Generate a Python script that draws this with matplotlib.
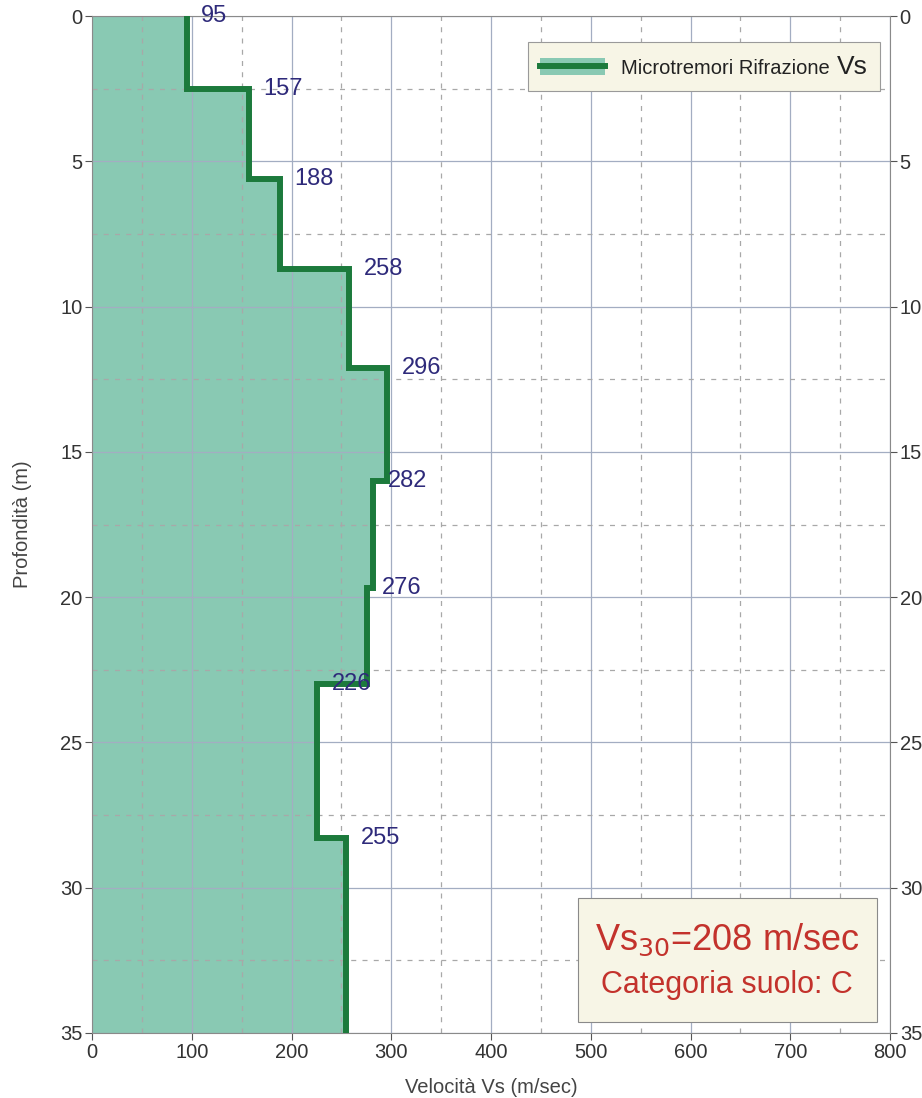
import numpy as np
import matplotlib
matplotlib.use("Agg")
import matplotlib.pyplot as plt
from matplotlib.patches import Patch, Rectangle
from matplotlib.lines import Line2D
from matplotlib.legend_handler import HandlerTuple
from matplotlib.offsetbox import TextArea, HPacker
from matplotlib.ticker import MultipleLocator

plt.rcParams['font.family'] = ['Liberation Sans', 'DejaVu Sans']

# ---- data ----
velocities = [95, 157, 188, 258, 296, 282, 276, 226, 255]      # Vs (m/sec)
layer_tops = [0, 2.5, 5.6, 8.7, 12.1, 16.0, 19.7, 23.0, 28.3]  # depth (m)
max_depth = 35
x_ticks = [0, 100, 200, 300, 400, 500, 600, 700, 800]
y_ticks = [0, 5, 10, 15, 20, 25, 30, 35]
legend_label = "Microtremori Rifrazione"
legend_suffix = "Vs"
vs30_value = 208
soil_category = "C"

# ---- styles ----
FILL = '#89c9b3'
LINE = '#1c7a3c'
LABEL = '#2e2a7a'
RED = '#c3322c'
BOXFACE = '#f7f5e6'

fig = plt.figure(figsize=(9.22, 10.98), dpi=100)
ax = fig.add_axes([0.0998, 0.0592, 0.8655, 0.9262])

bounds = np.array(layer_tops + [max_depth], dtype=float)
vel = np.array(velocities, dtype=float)
ys = np.repeat(bounds, 2)[1:-1]
xs = np.repeat(vel, 2)

ax.fill_betweenx(bounds, 0, np.append(vel, vel[-1]), step='post',
                 color=FILL, linewidth=0, zorder=1)
ax.plot(xs, ys, color=LINE, linewidth=4.3, solid_capstyle='butt',
        solid_joinstyle='miter', zorder=3)

for v, t in zip(velocities, layer_tops):
    ax.annotate(str(v), xy=(v, t), xytext=(10.5, 0), textcoords='offset points',
                ha='left', va='center', fontsize=17, color=LABEL, zorder=4,
                annotation_clip=False)

ax.set_xlim(0, 800)
ax.set_ylim(max_depth, 0)
ax.set_xticks(x_ticks)
ax.set_yticks(y_ticks)
ax.xaxis.set_minor_locator(MultipleLocator(50))
ax.yaxis.set_minor_locator(MultipleLocator(2.5))

ax.grid(which='major', color='#a3adc2', linewidth=0.9, linestyle='-')
ax.grid(which='minor', color='#a8a8a8', linewidth=0.9, linestyle=(0, (4, 5)))

ax.tick_params(which='major', direction='out', length=5, width=0.8,
               colors='#555555', labelcolor='#333333', labelsize=14.5,
               left=True, right=True, labelleft=True, labelright=True,
               bottom=True, top=False, pad=2)
ax.tick_params(which='minor', length=0)
for s in ax.spines.values():
    s.set_color('#8a8a8a')
    s.set_linewidth(0.8)

ax.set_xlabel("Velocità Vs (m/sec)", fontsize=14.5, color='#444444', labelpad=12)
ax.set_ylabel("Profondità (m)", fontsize=14.5, color='#444444', labelpad=20)

# legend
h_patch = Patch(facecolor=FILL, edgecolor='none')
h_line = Line2D([], [], color=LINE, linewidth=4.3)
leg = ax.legend([(h_patch, h_line)], [legend_label],
                handler_map={tuple: HandlerTuple(ndivide=1, pad=0)},
                loc='upper right', bbox_to_anchor=(0.987, 0.974),
                borderaxespad=0, fontsize=14.5, frameon=True, fancybox=False,
                framealpha=1, facecolor=BOXFACE, edgecolor='#9a9a9a',
                handlelength=3.2, handleheight=0.9, borderpad=0.6,
                handletextpad=0.8)
leg.get_frame().set_linewidth(0.8)
for t in leg.get_texts():
    t.set_color('#222222')

# append a larger "Vs" after the legend label, inside the legend box
try:
    row = leg._legend_handle_box.get_children()[0].get_children()[0]
    kids = row.get_children()
    vs_area = TextArea(legend_suffix, textprops=dict(fontsize=19, color='#222222'))
    kids[1] = HPacker(children=[kids[1], vs_area], align='baseline', pad=0, sep=5)
    kids[1].set_figure(fig)
    kids[1].axes = ax
except Exception:
    leg.get_texts()[0].set_text(legend_label + " " + legend_suffix)

# Vs30 box
ax.add_patch(Rectangle((0.609, 0.0108), 0.375, 0.122, transform=ax.transAxes,
                       facecolor=BOXFACE, edgecolor='#8a8a8a', linewidth=0.8,
                       zorder=5))
ax.text(0.796, 0.0914, "Vs$_{30}$=%d m/sec" % vs30_value, transform=ax.transAxes,
        ha='center', va='center', fontsize=26, color=RED, zorder=6)
ax.text(0.796, 0.047, "Categoria suolo: %s" % soil_category, transform=ax.transAxes,
        ha='center', va='center', fontsize=22, color=RED, zorder=6)

fig.savefig("out.png", dpi=100)
